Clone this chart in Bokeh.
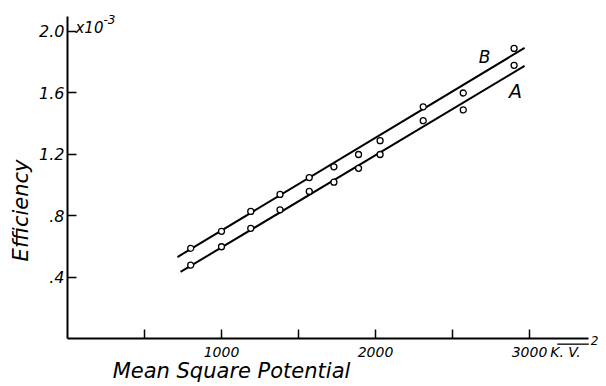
import math
from bokeh.plotting import figure
from bokeh.models import FixedTicker, Label, Range1d
from bokeh.embed import file_html
from bokeh.resources import INLINE

# --- data (efficiency in units of 1e-3, potential in (kV)^2) ---
potential = [800, 1000, 1190, 1380, 1570, 1730, 1890, 2030, 2310, 2570, 2900]
eff_B = [0.59, 0.70, 0.83, 0.94, 1.05, 1.12, 1.20, 1.29, 1.51, 1.60, 1.89]
eff_A = [0.48, 0.60, 0.72, 0.84, 0.96, 1.02, 1.11, 1.20, 1.42, 1.49, 1.78]

line_B_x = [714, 2968]
line_B_y = [0.533, 1.893]
line_A_x = [734, 2968]
line_A_y = [0.436, 1.776]

x_ticks = [500, 1000, 1500, 2000, 2500, 3000]
x_tick_labels = ["", "1000", "", "2000", "", "3000"]
y_ticks = [0.4, 0.8, 1.2, 1.6, 2.0]
y_tick_labels = [".4", ".8", "1.2", "1.6", "2.0"]

FONT = "DejaVu Sans"
W, H = 604, 384

# frame covers the whole canvas; axes are pinned at x=0 / y=0
p = figure(width=W, height=H, output_backend="svg", toolbar_location=None,
           x_range=Range1d(-435, -435 + W / 0.154),
           y_range=Range1d(2.2016 - H / 153.75, 2.2016),
           min_border=0, min_border_left=0, min_border_right=0,
           min_border_top=0, min_border_bottom=0)
p.outline_line_color = None
p.xgrid.visible = False
p.ygrid.visible = False
p.background_fill_color = "white"
p.border_fill_color = "white"

p.xaxis.fixed_location = 0
p.yaxis.fixed_location = 0
p.xaxis.bounds = (0, 3383)
p.yaxis.bounds = (0, 2.1)

for ax in (p.xaxis[0], p.yaxis[0]):
    ax.axis_line_width = 2
    ax.axis_line_color = "black"
    ax.major_tick_line_width = 1.5
    ax.major_tick_line_color = "black"
    ax.major_tick_in = 9
    ax.major_tick_out = 0
    ax.minor_tick_line_color = None
    ax.major_label_text_font = FONT
    ax.major_label_text_font_style = "italic"
    ax.major_label_text_color = "black"

p.xaxis.ticker = FixedTicker(ticks=x_ticks)
p.xaxis.major_label_overrides = {t: l for t, l in zip(x_ticks, x_tick_labels)}
p.xaxis.major_label_text_font_size = "14px"
p.xaxis.major_label_standoff = 8

p.yaxis.ticker = FixedTicker(ticks=y_ticks)
p.yaxis.major_label_overrides = {t: l for t, l in zip(y_ticks, y_tick_labels)}
p.yaxis.major_label_text_font_size = "16px"
p.yaxis.major_label_standoff = 3

# fitted lines
p.line(line_B_x, line_B_y, line_color="black", line_width=2)
p.line(line_A_x, line_A_y, line_color="black", line_width=2)

# measured points
p.scatter(potential, eff_B, marker="circle", size=6, fill_color="white",
          line_color="black", line_width=1.3)
p.scatter(potential, eff_A, marker="circle", size=6, fill_color="white",
          line_color="black", line_width=1.3)

def lab(text, x, y, size, angle=0.0, align="center", baseline="middle",
        style="italic"):
    p.add_layout(Label(x=x, y=y, text=text, text_font=FONT,
                       text_font_style=style, text_font_size=size,
                       text_color="black", angle=angle, text_align=align,
                       text_baseline=baseline))

lab("B", 2708, 1.834, "17px")
lab("A", 2909, 1.613, "19px")
lab("x10", 52, 2.023, "15px", align="left")
lab("-3", 234, 2.075, "12px", align="left")
lab("Efficiency", -305, 0.836, "21px", angle=math.pi / 2)
lab("Mean Square Potential", 1065, -0.211, "21px")
lab("K. V.", 3135, -0.084, "14px", align="left")
lab("2", 3422, -0.013, "12px")

# overline of the unit "K.V." (part of the unit lettering)
unit_bar_x = [3180, 3385]
unit_bar_y = -0.0335
p.segment(x0=unit_bar_x[0], y0=unit_bar_y, x1=unit_bar_x[1], y1=unit_bar_y,
          line_color="black", line_width=1.3)

open("out.html", "w").write(file_html(p, INLINE))
